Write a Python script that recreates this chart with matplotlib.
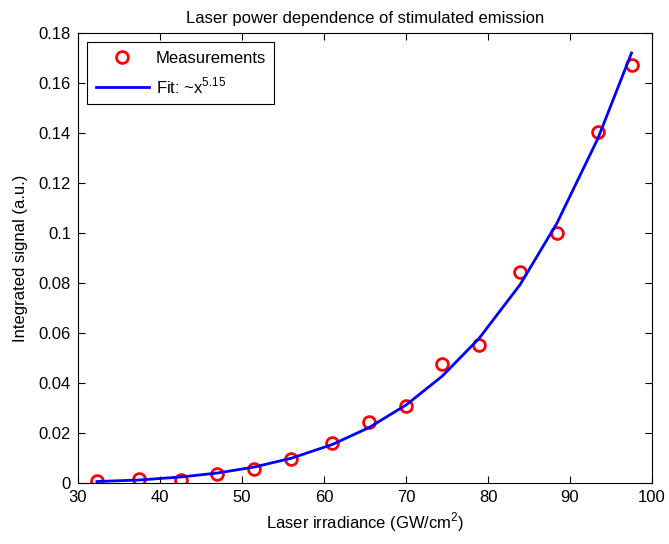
import matplotlib
matplotlib.use("Agg")
import matplotlib.pyplot as plt
from matplotlib.ticker import FuncFormatter

# Data
irradiance = [32.3, 37.4, 42.5, 47.0, 51.5, 56.0, 61.0, 65.5, 70.0, 74.4, 78.9, 83.9, 88.4, 93.4, 97.5]
measured = [0.0010, 0.0018, 0.0012, 0.0038, 0.0058, 0.0095, 0.0162, 0.0245, 0.0308,
            0.0478, 0.0553, 0.0843, 0.0999, 0.1403, 0.1672]
fit_vals = [0.0006, 0.0012, 0.0024, 0.0040, 0.0064, 0.0099, 0.0154, 0.0222, 0.0312,
            0.0427, 0.0578, 0.0793, 0.1039, 0.1378, 0.1720]

plt.rcParams["font.family"] = ["Liberation Sans", "DejaVu Sans"]
plt.rcParams["mathtext.fontset"] = "custom"
plt.rcParams["mathtext.rm"] = "Liberation Sans"

fig = plt.figure(figsize=(6.69, 5.44), dpi=100)
ax = fig.add_axes([0.1166, 0.1121, 0.8580, 0.8272])

ax.plot(irradiance, measured, "o", mfc="none", mec="red", mew=2, ms=8.5, label="Measurements")
ax.plot(irradiance, fit_vals, "-", color="blue", lw=2, label="Fit: ~x$^{5.15}$")

ax.set_xlim(30, 100)
ax.set_ylim(0, 0.18)
ax.set_xticks(range(30, 101, 10))
ax.set_yticks([i * 0.02 for i in range(10)])
ax.yaxis.set_major_formatter(FuncFormatter(lambda v, p: "%g" % round(v, 2)))
ax.tick_params(direction="in", length=5, width=0.8, top=True, right=True, labelsize=12, pad=5)
for s in ax.spines.values():
    s.set_linewidth(0.8)

ax.set_xlabel("Laser irradiance (GW/cm$^2$)", fontsize=12, labelpad=4)
ax.set_ylabel("Integrated signal (a.u.)", fontsize=12, labelpad=8)
ax.set_title("Laser power dependence of stimulated emission", fontsize=12, pad=7)

leg = ax.legend(loc="upper left", fontsize=12, fancybox=False, edgecolor="black",
                framealpha=1, borderaxespad=0.55, handlelength=3.2, handletextpad=0.4,
                borderpad=0.5, labelspacing=0.6)
leg.get_frame().set_linewidth(0.8)

fig.savefig("out.png", dpi=100)
